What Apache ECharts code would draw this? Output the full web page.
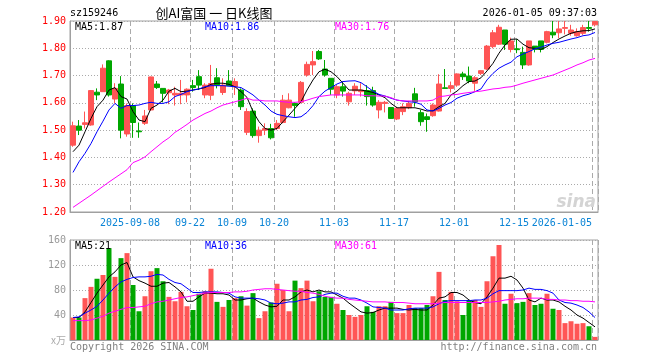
<!DOCTYPE html>
<html><head><meta charset="utf-8">
<script src="https://cdn.jsdelivr.net/npm/echarts@6/dist/echarts.min.js"></script>
<style>html,body{margin:0;padding:0;background:#fff}#c{width:660px;height:360px}</style>
</head><body><div id="c"></div>
<script>
const dates = ['2025-08-25','2025-08-26','2025-08-27','2025-08-28','2025-08-29','2025-09-01','2025-09-02','2025-09-03','2025-09-04','2025-09-05',
'2025-09-08','2025-09-09','2025-09-10','2025-09-11','2025-09-12','2025-09-15','2025-09-16','2025-09-17','2025-09-18','2025-09-19',
'2025-09-22','2025-09-23','2025-09-24','2025-09-25','2025-09-26','2025-09-29','2025-09-30','2025-10-09','2025-10-10','2025-10-13',
'2025-10-14','2025-10-15','2025-10-16','2025-10-17','2025-10-20','2025-10-21','2025-10-22','2025-10-23','2025-10-24','2025-10-27',
'2025-10-28','2025-10-29','2025-10-30','2025-10-31','2025-11-03','2025-11-04','2025-11-05','2025-11-06','2025-11-07','2025-11-10',
'2025-11-11','2025-11-12','2025-11-13','2025-11-14','2025-11-17','2025-11-18','2025-11-19','2025-11-20','2025-11-21','2025-11-24',
'2025-11-25','2025-11-26','2025-11-27','2025-11-28','2025-12-01','2025-12-02','2025-12-03','2025-12-04','2025-12-05','2025-12-08',
'2025-12-09','2025-12-10','2025-12-11','2025-12-12','2025-12-15','2025-12-16','2025-12-17','2025-12-18','2025-12-19','2025-12-22',
'2025-12-23','2025-12-24','2025-12-25','2025-12-26','2025-12-29','2025-12-30','2025-12-31','2026-01-05'];
const xTickDates = ['2025-09-08','2025-09-22','2025-10-09','2025-10-20','2025-11-03','2025-11-17','2025-12-01','2025-12-15','2026-01-05'];
const xTickLabels = ['2025-09-08','09-22','10-09','10-20','11-03','11-17','12-01','12-15','2026-01-05'];
const openP = [1.445,1.515,1.521,1.519,1.639,1.641,1.754,1.614,1.669,1.486,
1.590,1.497,1.525,1.574,1.669,1.653,1.637,1.629,1.629,1.629,
1.663,1.696,1.629,1.628,1.692,1.638,1.680,1.659,1.647,1.492,
1.570,1.480,1.500,1.506,1.506,1.528,1.582,1.598,1.602,1.702,
1.739,1.788,1.724,1.690,1.629,1.659,1.604,1.644,1.641,1.645,
1.645,1.574,1.598,1.583,1.541,1.568,1.582,1.633,1.564,1.549,
1.553,1.570,1.655,1.653,1.665,1.706,1.698,1.672,1.708,1.724,
1.806,1.815,1.867,1.796,1.798,1.785,1.739,1.808,1.827,1.822,
1.859,1.857,1.873,1.855,1.846,1.855,1.876,1.886];
const closeP = [1.516,1.500,1.527,1.645,1.629,1.727,1.629,1.653,1.500,1.590,
1.528,1.494,1.552,1.695,1.656,1.635,1.647,1.635,1.635,1.650,
1.656,1.665,1.665,1.671,1.665,1.665,1.663,1.678,1.586,1.568,
1.480,1.500,1.506,1.472,1.525,1.610,1.610,1.590,1.675,1.741,
1.751,1.761,1.702,1.650,1.659,1.643,1.635,1.661,1.647,1.623,
1.592,1.602,1.602,1.543,1.580,1.586,1.598,1.604,1.531,1.539,
1.592,1.669,1.653,1.663,1.706,1.696,1.680,1.692,1.718,1.808,
1.857,1.877,1.815,1.827,1.795,1.739,1.827,1.796,1.796,1.861,
1.849,1.871,1.876,1.867,1.861,1.876,1.873,1.898];
const lowP = [1.439,1.482,1.506,1.516,1.610,1.641,1.623,1.598,1.470,1.476,
1.472,1.472,1.519,1.571,1.651,1.602,1.595,1.590,1.595,1.602,
1.641,1.647,1.617,1.610,1.653,1.629,1.663,1.629,1.574,1.482,
1.472,1.454,1.482,1.466,1.500,1.525,1.580,1.549,1.598,1.696,
1.702,1.757,1.696,1.629,1.617,1.623,1.590,1.629,1.623,1.590,
1.586,1.543,1.565,1.541,1.537,1.555,1.577,1.586,1.516,1.494,
1.549,1.568,1.651,1.638,1.659,1.684,1.672,1.644,1.702,1.720,
1.800,1.812,1.794,1.785,1.782,1.724,1.736,1.785,1.785,1.818,
1.837,1.837,1.851,1.846,1.843,1.849,1.861,1.880];
const highP = [1.531,1.537,1.568,1.647,1.653,1.741,1.756,1.672,1.698,1.598,
1.598,1.528,1.574,1.696,1.680,1.653,1.651,1.659,1.684,1.653,
1.684,1.720,1.672,1.739,1.727,1.690,1.720,1.690,1.653,1.580,
1.580,1.513,1.525,1.523,1.537,1.629,1.635,1.602,1.680,1.751,
1.790,1.794,1.757,1.690,1.665,1.678,1.641,1.672,1.672,1.665,
1.659,1.610,1.607,1.583,1.586,1.598,1.607,1.655,1.574,1.561,
1.598,1.705,1.724,1.678,1.708,1.714,1.733,1.698,1.720,1.812,
1.867,1.886,1.867,1.839,1.833,1.806,1.827,1.808,1.827,1.864,
1.900,1.900,1.900,1.886,1.873,1.886,1.900,1.900];
const ma5 = [1.421,1.445,1.494,1.543,1.586,1.610,1.647,1.656,1.623,1.614,
1.568,1.537,1.531,1.580,1.592,1.610,1.643,1.653,1.641,1.643,
1.647,1.651,1.656,1.668,1.672,1.672,1.668,1.659,1.641,1.620,
1.568,1.531,1.506,1.500,1.506,1.531,1.555,1.580,1.604,1.647,
1.684,1.714,1.723,1.714,1.696,1.672,1.647,1.647,1.647,1.643,
1.638,1.629,1.619,1.598,1.582,1.582,1.582,1.582,1.577,1.570,
1.571,1.586,1.598,1.629,1.643,1.663,1.678,1.680,1.692,1.717,
1.745,1.782,1.812,1.833,1.834,1.815,1.802,1.800,1.796,1.806,
1.821,1.834,1.845,1.855,1.861,1.864,1.865,1.871];
const ma10 = [1.345,1.384,1.415,1.451,1.494,1.533,1.574,1.598,1.580,1.590,
1.590,1.592,1.598,1.602,1.598,1.598,1.604,1.623,1.631,1.641,
1.647,1.651,1.659,1.663,1.663,1.663,1.661,1.659,1.656,1.643,
1.629,1.610,1.592,1.570,1.558,1.553,1.549,1.546,1.549,1.565,
1.590,1.623,1.643,1.656,1.669,1.678,1.680,1.681,1.674,1.659,
1.643,1.631,1.625,1.617,1.610,1.607,1.604,1.602,1.595,1.574,
1.570,1.580,1.592,1.601,1.617,1.626,1.632,1.641,1.651,1.684,
1.708,1.727,1.739,1.749,1.769,1.779,1.788,1.798,1.804,1.812,
1.818,1.822,1.828,1.834,1.839,1.846,1.849,1.858];
const ma30 = [1.217,1.232,1.247,1.262,1.278,1.294,1.310,1.325,1.340,1.355,
1.381,1.390,1.402,1.421,1.439,1.457,1.472,1.492,1.506,1.521,
1.537,1.549,1.561,1.570,1.582,1.592,1.598,1.604,1.610,1.617,
1.610,1.610,1.607,1.607,1.607,1.604,1.602,1.602,1.604,1.610,
1.617,1.623,1.626,1.629,1.629,1.629,1.629,1.629,1.629,1.626,
1.626,1.625,1.625,1.619,1.610,1.607,1.607,1.607,1.607,1.607,
1.610,1.623,1.625,1.629,1.631,1.635,1.638,1.641,1.643,1.647,
1.651,1.653,1.657,1.659,1.665,1.672,1.678,1.684,1.690,1.696,
1.702,1.711,1.720,1.729,1.739,1.747,1.757,1.763];
const vol = [36,36,67,85,98,104,147,101,131,139,
88,46,70,110,115,94,69,62,77,54,
48,74,78,114,61,53,64,67,70,55,
75,35,46,60,90,80,46,95,83,95,
62,78,69,69,58,48,40,37,40,54,
45,54,54,61,43,43,56,51,51,56,
70,109,64,77,62,40,64,64,53,94,
134,152,58,74,59,61,75,56,58,74,
50,48,27,30,26,27,22,5];
const vma5 = [36,36,45,60,75,88,101,109,120,124,
101,95,91,86,86,91,92,85,77,62,
62,69,75,75,74,74,72,64,64,66,
67,61,56,53,54,64,64,69,77,80,
77,80,77,77,72,67,59,52,45,43,
44,48,51,51,51,49,48,49,48,48,
56,67,69,76,76,72,64,60,58,69,
83,99,99,102,96,83,64,61,67,64,
64,61,54,48,40,35,28,21];
const vma10 = [36,37,43,48,54,64,75,85,93,97,
100,101,101,102,105,104,97,92,90,83,
76,76,77,77,77,76,75,69,67,67,
67,66,64,59,58,59,61,61,64,65,
68,69,73,75,75,70,67,67,64,59,
53,52,51,48,48,48,50,51,51,51,
53,58,62,63,63,63,63,64,64,67,
74,79,79,79,79,80,83,81,81,79,
75,64,60,59,56,52,45,36];
const vma30 = [31,31,31,32,35,38,43,46,49,52,
52,53,54,58,61,62,64,66,68,69,
71,73,75,76,76,76,76,77,77,78,
80,81,82,82,81,80,79,78,78,76,
75,73,70,68,67,67,65,64,63,62,
61,61,61,60,60,60,59,58,58,58,
58,59,60,60,60,60,60,60,60,60,
61,62,64,65,66,66,67,67,67,65,
65,64,64,63,63,62,62,61];
const priceTicks = [1.2, 1.9, 0.1];
const volTicks = [0, 160, 40];

const UP = '#ff5555', DOWN = '#00a600';
const MONO = '"DejaVu Sans Mono","Liberation Mono",monospace';
const tickIdx = xTickDates.map(d => dates.indexOf(d));
const last = dates.length - 1;
const isTick = (i) => tickIdx.indexOf(i) >= 0;
const isInnerTick = (i) => isTick(i) && i !== last;
const kData = dates.map((d, i) => [openP[i], closeP[i], lowP[i], highP[i]]);
const volData = vol.map((v, i) => ({ value: v, itemStyle: { color: closeP[i] >= openP[i] ? UP : DOWN } }));
const fmt2 = v => v.toFixed(2);
const tickText = (v) => xTickLabels[xTickDates.indexOf(v)];

const chart = echarts.init(document.getElementById('c'), null, { renderer: 'canvas' });
const vSplit = { show: true, interval: (i) => isTick(i), lineStyle: { color: '#aaaaaa', type: [5, 3], width: 1 } };
const hSplit = { show: true, lineStyle: { color: '#aaaaaa', type: [1, 2], width: 1 } };
function line(name, data, color, xi, yi) {
  return { name, type: 'line', data, xAxisIndex: xi, yAxisIndex: yi, symbol: 'none', smooth: false,
    lineStyle: { color, width: 1 }, itemStyle: { color }, silent: true, z: 5 };
}
function txt(text, x, y, color, align, font) {
  return { type: 'text', x, y, silent: true, z: 100,
    style: { text, fill: color, textAlign: align || 'left', textVerticalAlign: 'middle', font: font || ('10px ' + MONO) } };
}
const option = {
  animation: false,
  backgroundColor: '#ffffff',
  grid: [
    { left: 70, top: 21, width: 528, height: 191, show: true, borderColor: '#a0a0a0', borderWidth: 1, backgroundColor: 'transparent' },
    { left: 70, top: 240, width: 528, height: 100, show: true, borderColor: '#a0a0a0', borderWidth: 1, backgroundColor: 'transparent' }
  ],
  xAxis: [
    { type: 'category', gridIndex: 0, data: dates, boundaryGap: true,
      axisLine: { show: true, lineStyle: { color: '#a0a0a0', width: 1 } }, axisTick: { show: false },
      axisLabel: { interval: (i) => isInnerTick(i), formatter: tickText,
        color: '#0a84d6', fontFamily: MONO, fontSize: 10, margin: 6, padding: [0, 6, 0, 0] },
      splitLine: vSplit },
    { type: 'category', gridIndex: 1, data: dates, boundaryGap: true,
      axisLine: { show: true, lineStyle: { color: '#a0a0a0', width: 1 } }, axisTick: { show: false },
      axisLabel: { show: false }, splitLine: vSplit },
    { type: 'category', gridIndex: 0, data: dates, boundaryGap: true, position: 'bottom',
      axisLine: { show: false }, axisTick: { show: false }, splitLine: { show: false },
      axisLabel: { interval: (i) => i === last, formatter: tickText,
        align: 'right', color: '#0a84d6', fontFamily: MONO, fontSize: 10, margin: 6, padding: [0, 3, 0, 0] } }
  ],
  yAxis: [
    { type: 'value', gridIndex: 0, min: priceTicks[0], max: priceTicks[1], interval: priceTicks[2],
      axisLine: { show: true, lineStyle: { color: '#a0a0a0' } }, axisTick: { show: false },
      axisLabel: { color: '#ff0000', fontFamily: MONO, fontSize: 10, margin: 4, formatter: fmt2 },
      splitLine: hSplit },
    { type: 'value', gridIndex: 1, min: volTicks[0], max: volTicks[1], interval: volTicks[2],
      axisLine: { show: true, lineStyle: { color: '#a0a0a0' } }, axisTick: { show: false },
      axisLabel: { color: '#999999', fontFamily: MONO, fontSize: 10, margin: 4, showMinLabel: false },
      splitLine: hSplit }
  ],
  series: [
    { name: 'K', type: 'candlestick', data: kData, xAxisIndex: 0, yAxisIndex: 0, barWidth: 5,
      itemStyle: { color: UP, color0: DOWN, borderColor: UP, borderColor0: DOWN, borderWidth: 1 } },
    line('MA5', ma5, '#000000', 0, 0),
    line('MA10', ma10, '#0000ff', 0, 0),
    line('MA30', ma30, '#ff00ff', 0, 0),
    { name: 'VOL', type: 'bar', data: volData, xAxisIndex: 1, yAxisIndex: 1, barWidth: 5 },
    line('VMA5', vma5, '#000000', 1, 1),
    line('VMA10', vma10, '#0000ff', 1, 1),
    line('VMA30', vma30, '#ff00ff', 1, 1)
  ],
  graphic: [
    txt('sz159246', 70, 13, '#000000'),
    txt('创AI富国 一 日K线图', 214, 13, '#000000', 'center', '13px "Noto Sans CJK SC"'),
    txt('2026-01-05 09:37:03', 597, 13, '#000000', 'right'),
    txt('MA5:' + fmt2(ma5[last]), 75, 27, '#000000'),
    txt('MA10:' + fmt2(ma10[last]), 205, 27, '#0000ff'),
    txt('MA30:' + fmt2(ma30[last]), 335, 27, '#ff00ff'),
    txt('MA5:' + Math.round(vma5[last]), 75, 246, '#000000'),
    txt('MA10:' + Math.round(vma10[last]), 205, 246, '#0000ff'),
    txt('MA30:' + Math.round(vma30[last]), 335, 246, '#ff00ff'),
    txt('x万', 66, 340, '#aaaaaa', 'right', '10px "Noto Sans CJK SC"'),
    txt('Copyright 2026 SINA.COM', 70, 347, '#808080'),
    txt('http://finance.sina.com.cn', 597, 347, '#808080', 'right'),
    txt('sina', 596, 203, '#d4d4d4', 'right', 'italic bold 17px "DejaVu Sans"')
  ]
};
chart.setOption(option);
</script></body></html>
